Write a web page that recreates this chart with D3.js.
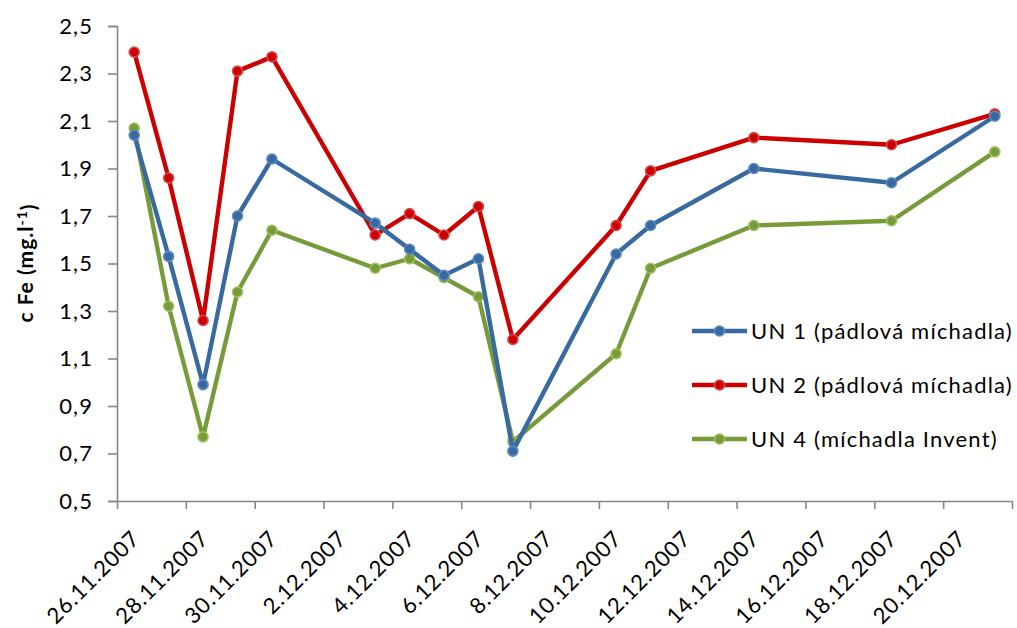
<!DOCTYPE html>
<html>
<head>
<meta charset="utf-8">
<script src="https://cdn.jsdelivr.net/npm/d3@7/dist/d3.min.js"></script>
<style>
  html, body { margin: 0; padding: 0; background: #fff; }
  svg { display: block; font-family: Lato, "Open Sans", sans-serif; }
</style>
</head>
<body>
<svg id="chart" width="1017" height="628"></svg>
<script>
// Sampling dates (day.month.year)
const sampleDates = ["26.11.2007", "27.11.2007", "28.11.2007", "29.11.2007", "30.11.2007",
  "3.12.2007", "4.12.2007", "5.12.2007", "6.12.2007", "7.12.2007",
  "10.12.2007", "11.12.2007", "14.12.2007", "18.12.2007", "21.12.2007"];

// Iron concentration c Fe (mg/l) per tank
const un1 = [2.04, 1.53, 0.99, 1.70, 1.94, 1.67, 1.56, 1.45, 1.52, 0.71, 1.54, 1.66, 1.90, 1.84, 2.12];
const un2 = [2.39, 1.86, 1.26, 2.31, 2.37, 1.62, 1.71, 1.62, 1.74, 1.18, 1.66, 1.89, 2.03, 2.00, 2.13];
const un4 = [2.07, 1.32, 0.77, 1.38, 1.64, 1.48, 1.52, 1.44, 1.36, 0.75, 1.12, 1.48, 1.66, 1.68, 1.97];

const seriesNames = ["UN 1 (pádlová míchadla)", "UN 2 (pádlová míchadla)", "UN 4 (míchadla Invent)"];
const yTicks = [0.5, 0.7, 0.9, 1.1, 1.3, 1.5, 1.7, 1.9, 2.1, 2.3, 2.5];
const axisStart = "26.11.2007";
const axisEnd = "22.12.2007";

const parseDate = d3.utcParse("%d.%m.%Y");
const fmtDate = d => `${d.getUTCDate()}.${d.getUTCMonth() + 1}.${d.getUTCFullYear()}`;
const fmtNum = v => d3.format(".1f")(v).replace(".", ",");

const svg = d3.select("#chart");
const plotLeft = 117, plotRight = 1012, plotTop = 26, plotBottom = 501;

const start = parseDate(axisStart), end = parseDate(axisEnd);
const x = d3.scaleUtc().domain([start, end]).range([plotLeft, plotRight]);
const y = d3.scaleLinear().domain([0.5, 2.5]).range([plotBottom, plotTop]);
const mid = d => d3.utcHour.offset(d, 12); // centre of a day slot

const axisColor = "#878787";
const fontSize = 22;
const spacing = "1.1px";

// Y axis
const yAxis = svg.append("g").attr("transform", `translate(${plotLeft},0)`)
  .call(d3.axisLeft(y).tickValues(yTicks).tickFormat(fmtNum).tickSize(9).tickPadding(15));
yAxis.select(".domain").attr("stroke", axisColor).attr("stroke-width", 1.6);
yAxis.selectAll(".tick line").attr("stroke", axisColor).attr("stroke-width", 1.6);
yAxis.selectAll(".tick text").attr("fill", "#000")
  .style("font-size", fontSize + "px").style("font-family", "Lato").style("letter-spacing", spacing);

// X axis: tick marks on slot boundaries every two days from the start date
const nDays = d3.utcDay.count(start, end);
const tickDates = d3.range(0, nDays + 1, 2).map(i => d3.utcDay.offset(start, i));
const xAxis = svg.append("g").attr("transform", `translate(0,${plotBottom})`)
  .call(d3.axisBottom(x).tickValues(tickDates).tickFormat("").tickSize(8).tickSizeOuter(0));
xAxis.select(".domain").attr("stroke", axisColor).attr("stroke-width", 1.6);
xAxis.selectAll(".tick line").attr("stroke", axisColor).attr("stroke-width", 1.6);

// Rotated date labels centred in their day slot
const labelDates = tickDates.filter(d => d < end);
svg.append("g").selectAll("text").data(labelDates).join("text")
  .attr("transform", d => `translate(${x(mid(d)) + 7},${plotBottom + 39}) rotate(-45)`)
  .attr("text-anchor", "end")
  .style("font-size", fontSize + "px").style("letter-spacing", "0.8px")
  .attr("fill", "#000")
  .text(fmtDate);

// Y axis title
const yTitle = svg.append("text")
  .attr("transform", `translate(33,263) rotate(-90)`)
  .attr("text-anchor", "middle")
  .style("font-size", "21px").style("font-weight", "bold").style("letter-spacing", "1px")
  .attr("fill", "#000");
yTitle.append("tspan").text("c Fe (mg.l");
yTitle.append("tspan").attr("dy", "-0.45em").style("font-size", "14px").text("-1");
yTitle.append("tspan").attr("dy", "0.45em").text(")");

// Series
const colors = ["#386aa0", "#cc0000", "#779b3a"];
const rims = ["#5b8ac6", "#d84a4a", "#9dc05a"];
const dates = sampleDates.map(parseDate);
const series = [un1, un2, un4];
const markerR = 5;

const line = d3.line().x((v, i) => x(mid(dates[i]))).y(v => y(v));

// draw UN 4 first, UN 1 last (UN 1 on top)
const order = [2, 1, 0];
order.forEach(k => {
  const g = svg.append("g");
  g.append("path").datum(series[k])
    .attr("d", line).attr("fill", "none")
    .attr("stroke", colors[k]).attr("stroke-width", 4.4)
    .attr("stroke-linejoin", "round");
  g.selectAll("circle").data(series[k]).join("circle")
    .attr("cx", (v, i) => x(mid(dates[i]))).attr("cy", v => y(v))
    .attr("r", markerR)
    .attr("fill", colors[k]).attr("stroke", rims[k]).attr("stroke-width", 1.6);
});

// Legend
const legendRows = [331, 385, 439];
const legend = svg.append("g");
seriesNames.forEach((name, k) => {
  const yy = legendRows[k];
  legend.append("line").attr("x1", 692).attr("x2", 747).attr("y1", yy).attr("y2", yy)
    .attr("stroke", colors[k]).attr("stroke-width", 4.4);
  legend.append("circle").attr("cx", 719.5).attr("cy", yy).attr("r", markerR)
    .attr("fill", colors[k]).attr("stroke", rims[k]).attr("stroke-width", 1.6);
  legend.append("text").attr("x", 751).attr("y", yy + 8)
    .style("font-size", fontSize + "px").style("letter-spacing", "1.2px")
    .attr("fill", "#000").text(name);
});
</script>
</body>
</html>
